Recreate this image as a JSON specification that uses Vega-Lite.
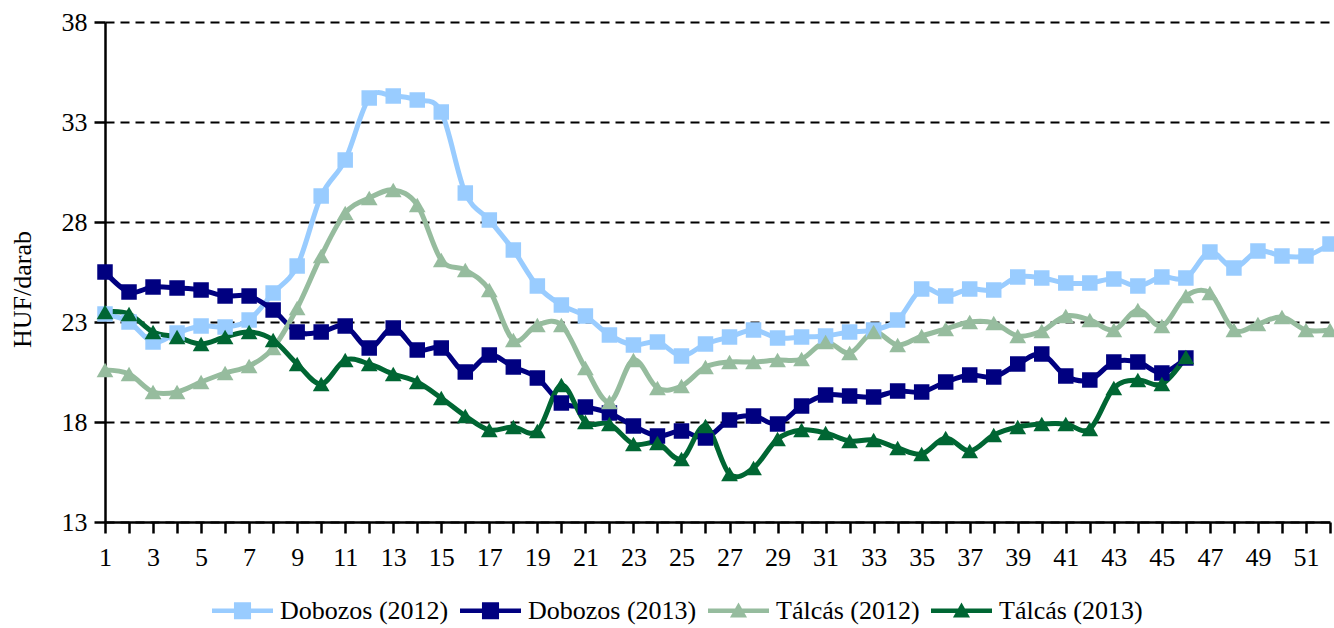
{
  "$schema": "https://vega.github.io/schema/vega-lite/v6.json",
  "width": 1225,
  "height": 500,
  "autosize": {"type": "none"},
  "padding": {"left": 105, "top": 22, "right": 4, "bottom": 106},
  "background": "white",
  "config": {
    "view": {"stroke": null},
    "font": "Liberation Serif",
    "axis": {
      "labelFont": "Liberation Serif",
      "titleFont": "Liberation Serif",
      "labelColor": "black",
      "titleColor": "black",
      "labelFontSize": 26,
      "titleFontSize": 26,
      "titleFontWeight": "normal",
      "domainColor": "black",
      "domainWidth": 2.5,
      "tickColor": "black",
      "tickWidth": 2.5,
      "tickSize": 11
    },
    "legend": {
      "labelFont": "Liberation Serif",
      "labelFontSize": 26,
      "labelColor": "black",
      "labelLimit": 400
    }
  },
  "datasets": {
    "prices": [
      {"w":1,"s":"Dobozos (2012)","v":23.4},{"w":2,"s":"Dobozos (2012)","v":23.0},{"w":3,"s":"Dobozos (2012)","v":22.0},{"w":4,"s":"Dobozos (2012)","v":22.45},{"w":5,"s":"Dobozos (2012)","v":22.8},{"w":6,"s":"Dobozos (2012)","v":22.75},{"w":7,"s":"Dobozos (2012)","v":23.1},{"w":8,"s":"Dobozos (2012)","v":24.45},{"w":9,"s":"Dobozos (2012)","v":25.8},{"w":10,"s":"Dobozos (2012)","v":29.3},
      {"w":11,"s":"Dobozos (2012)","v":31.1},{"w":12,"s":"Dobozos (2012)","v":34.2},{"w":13,"s":"Dobozos (2012)","v":34.3},{"w":14,"s":"Dobozos (2012)","v":34.1},{"w":15,"s":"Dobozos (2012)","v":33.5},{"w":16,"s":"Dobozos (2012)","v":29.45},{"w":17,"s":"Dobozos (2012)","v":28.1},{"w":18,"s":"Dobozos (2012)","v":26.6},{"w":19,"s":"Dobozos (2012)","v":24.8},{"w":20,"s":"Dobozos (2012)","v":23.85},
      {"w":21,"s":"Dobozos (2012)","v":23.3},{"w":22,"s":"Dobozos (2012)","v":22.35},{"w":23,"s":"Dobozos (2012)","v":21.85},{"w":24,"s":"Dobozos (2012)","v":22.0},{"w":25,"s":"Dobozos (2012)","v":21.3},{"w":26,"s":"Dobozos (2012)","v":21.9},{"w":27,"s":"Dobozos (2012)","v":22.25},{"w":28,"s":"Dobozos (2012)","v":22.6},{"w":29,"s":"Dobozos (2012)","v":22.2},{"w":30,"s":"Dobozos (2012)","v":22.25},
      {"w":31,"s":"Dobozos (2012)","v":22.3},{"w":32,"s":"Dobozos (2012)","v":22.5},{"w":33,"s":"Dobozos (2012)","v":22.6},{"w":34,"s":"Dobozos (2012)","v":23.1},{"w":35,"s":"Dobozos (2012)","v":24.65},{"w":36,"s":"Dobozos (2012)","v":24.3},{"w":37,"s":"Dobozos (2012)","v":24.65},{"w":38,"s":"Dobozos (2012)","v":24.6},{"w":39,"s":"Dobozos (2012)","v":25.25},{"w":40,"s":"Dobozos (2012)","v":25.2},
      {"w":41,"s":"Dobozos (2012)","v":24.95},{"w":42,"s":"Dobozos (2012)","v":24.95},{"w":43,"s":"Dobozos (2012)","v":25.15},{"w":44,"s":"Dobozos (2012)","v":24.8},{"w":45,"s":"Dobozos (2012)","v":25.25},{"w":46,"s":"Dobozos (2012)","v":25.2},{"w":47,"s":"Dobozos (2012)","v":26.5},{"w":48,"s":"Dobozos (2012)","v":25.7},{"w":49,"s":"Dobozos (2012)","v":26.55},{"w":50,"s":"Dobozos (2012)","v":26.3},
      {"w":51,"s":"Dobozos (2012)","v":26.3},{"w":52,"s":"Dobozos (2012)","v":26.9},

      {"w":1,"s":"Dobozos (2013)","v":25.5},{"w":2,"s":"Dobozos (2013)","v":24.5},{"w":3,"s":"Dobozos (2013)","v":24.75},{"w":4,"s":"Dobozos (2013)","v":24.7},{"w":5,"s":"Dobozos (2013)","v":24.6},{"w":6,"s":"Dobozos (2013)","v":24.3},{"w":7,"s":"Dobozos (2013)","v":24.3},{"w":8,"s":"Dobozos (2013)","v":23.6},{"w":9,"s":"Dobozos (2013)","v":22.5},{"w":10,"s":"Dobozos (2013)","v":22.5},
      {"w":11,"s":"Dobozos (2013)","v":22.8},{"w":12,"s":"Dobozos (2013)","v":21.7},{"w":13,"s":"Dobozos (2013)","v":22.7},{"w":14,"s":"Dobozos (2013)","v":21.6},{"w":15,"s":"Dobozos (2013)","v":21.7},{"w":16,"s":"Dobozos (2013)","v":20.5},{"w":17,"s":"Dobozos (2013)","v":21.35},{"w":18,"s":"Dobozos (2013)","v":20.75},{"w":19,"s":"Dobozos (2013)","v":20.2},{"w":20,"s":"Dobozos (2013)","v":18.95},
      {"w":21,"s":"Dobozos (2013)","v":18.75},{"w":22,"s":"Dobozos (2013)","v":18.45},{"w":23,"s":"Dobozos (2013)","v":17.8},{"w":24,"s":"Dobozos (2013)","v":17.3},{"w":25,"s":"Dobozos (2013)","v":17.55},{"w":26,"s":"Dobozos (2013)","v":17.2},{"w":27,"s":"Dobozos (2013)","v":18.1},{"w":28,"s":"Dobozos (2013)","v":18.3},{"w":29,"s":"Dobozos (2013)","v":17.9},{"w":30,"s":"Dobozos (2013)","v":18.8},
      {"w":31,"s":"Dobozos (2013)","v":19.35},{"w":32,"s":"Dobozos (2013)","v":19.3},{"w":33,"s":"Dobozos (2013)","v":19.25},{"w":34,"s":"Dobozos (2013)","v":19.55},{"w":35,"s":"Dobozos (2013)","v":19.5},{"w":36,"s":"Dobozos (2013)","v":20.0},{"w":37,"s":"Dobozos (2013)","v":20.35},{"w":38,"s":"Dobozos (2013)","v":20.25},{"w":39,"s":"Dobozos (2013)","v":20.9},{"w":40,"s":"Dobozos (2013)","v":21.4},
      {"w":41,"s":"Dobozos (2013)","v":20.3},{"w":42,"s":"Dobozos (2013)","v":20.1},{"w":43,"s":"Dobozos (2013)","v":21.0},{"w":44,"s":"Dobozos (2013)","v":21.0},{"w":45,"s":"Dobozos (2013)","v":20.45},{"w":46,"s":"Dobozos (2013)","v":21.2},

      {"w":1,"s":"Tálcás (2012)","v":20.6},{"w":2,"s":"Tálcás (2012)","v":20.4},{"w":3,"s":"Tálcás (2012)","v":19.5},{"w":4,"s":"Tálcás (2012)","v":19.5},{"w":5,"s":"Tálcás (2012)","v":20.0},{"w":6,"s":"Tálcás (2012)","v":20.45},{"w":7,"s":"Tálcás (2012)","v":20.8},{"w":8,"s":"Tálcás (2012)","v":21.7},{"w":9,"s":"Tálcás (2012)","v":23.7},{"w":10,"s":"Tálcás (2012)","v":26.3},
      {"w":11,"s":"Tálcás (2012)","v":28.45},{"w":12,"s":"Tálcás (2012)","v":29.2},{"w":13,"s":"Tálcás (2012)","v":29.6},{"w":14,"s":"Tálcás (2012)","v":28.85},{"w":15,"s":"Tálcás (2012)","v":26.1},{"w":16,"s":"Tálcás (2012)","v":25.6},{"w":17,"s":"Tálcás (2012)","v":24.6},{"w":18,"s":"Tálcás (2012)","v":22.1},{"w":19,"s":"Tálcás (2012)","v":22.85},{"w":20,"s":"Tálcás (2012)","v":22.85},
      {"w":21,"s":"Tálcás (2012)","v":20.7},{"w":22,"s":"Tálcás (2012)","v":19.0},{"w":23,"s":"Tálcás (2012)","v":21.1},{"w":24,"s":"Tálcás (2012)","v":19.7},{"w":25,"s":"Tálcás (2012)","v":19.8},{"w":26,"s":"Tálcás (2012)","v":20.75},{"w":27,"s":"Tálcás (2012)","v":21.0},{"w":28,"s":"Tálcás (2012)","v":21.0},{"w":29,"s":"Tálcás (2012)","v":21.1},{"w":30,"s":"Tálcás (2012)","v":21.15},
      {"w":31,"s":"Tálcás (2012)","v":22.0},{"w":32,"s":"Tálcás (2012)","v":21.45},{"w":33,"s":"Tálcás (2012)","v":22.5},{"w":34,"s":"Tálcás (2012)","v":21.85},{"w":35,"s":"Tálcás (2012)","v":22.3},{"w":36,"s":"Tálcás (2012)","v":22.65},{"w":37,"s":"Tálcás (2012)","v":23.0},{"w":38,"s":"Tálcás (2012)","v":22.95},{"w":39,"s":"Tálcás (2012)","v":22.3},{"w":40,"s":"Tálcás (2012)","v":22.55},
      {"w":41,"s":"Tálcás (2012)","v":23.3},{"w":42,"s":"Tálcás (2012)","v":23.1},{"w":43,"s":"Tálcás (2012)","v":22.6},{"w":44,"s":"Tálcás (2012)","v":23.6},{"w":45,"s":"Tálcás (2012)","v":22.8},{"w":46,"s":"Tálcás (2012)","v":24.3},{"w":47,"s":"Tálcás (2012)","v":24.45},{"w":48,"s":"Tálcás (2012)","v":22.6},{"w":49,"s":"Tálcás (2012)","v":22.9},{"w":50,"s":"Tálcás (2012)","v":23.25},
      {"w":51,"s":"Tálcás (2012)","v":22.6},{"w":52,"s":"Tálcás (2012)","v":22.6},

      {"w":1,"s":"Tálcás (2013)","v":23.5},{"w":2,"s":"Tálcás (2013)","v":23.4},{"w":3,"s":"Tálcás (2013)","v":22.5},{"w":4,"s":"Tálcás (2013)","v":22.25},{"w":5,"s":"Tálcás (2013)","v":21.9},{"w":6,"s":"Tálcás (2013)","v":22.25},{"w":7,"s":"Tálcás (2013)","v":22.5},{"w":8,"s":"Tálcás (2013)","v":22.1},{"w":9,"s":"Tálcás (2013)","v":20.9},{"w":10,"s":"Tálcás (2013)","v":19.9},
      {"w":11,"s":"Tálcás (2013)","v":21.1},{"w":12,"s":"Tálcás (2013)","v":20.9},{"w":13,"s":"Tálcás (2013)","v":20.4},{"w":14,"s":"Tálcás (2013)","v":20.0},{"w":15,"s":"Tálcás (2013)","v":19.2},{"w":16,"s":"Tálcás (2013)","v":18.3},{"w":17,"s":"Tálcás (2013)","v":17.6},{"w":18,"s":"Tálcás (2013)","v":17.75},{"w":19,"s":"Tálcás (2013)","v":17.55},{"w":20,"s":"Tálcás (2013)","v":19.85},
      {"w":21,"s":"Tálcás (2013)","v":18.0},{"w":22,"s":"Tálcás (2013)","v":17.9},{"w":23,"s":"Tálcás (2013)","v":16.9},{"w":24,"s":"Tálcás (2013)","v":16.95},{"w":25,"s":"Tálcás (2013)","v":16.15},{"w":26,"s":"Tálcás (2013)","v":17.8},{"w":27,"s":"Tálcás (2013)","v":15.4},{"w":28,"s":"Tálcás (2013)","v":15.7},{"w":29,"s":"Tálcás (2013)","v":17.15},{"w":30,"s":"Tálcás (2013)","v":17.6},
      {"w":31,"s":"Tálcás (2013)","v":17.45},{"w":32,"s":"Tálcás (2013)","v":17.05},{"w":33,"s":"Tálcás (2013)","v":17.1},{"w":34,"s":"Tálcás (2013)","v":16.7},{"w":35,"s":"Tálcás (2013)","v":16.4},{"w":36,"s":"Tálcás (2013)","v":17.2},{"w":37,"s":"Tálcás (2013)","v":16.55},{"w":38,"s":"Tálcás (2013)","v":17.35},{"w":39,"s":"Tálcás (2013)","v":17.75},{"w":40,"s":"Tálcás (2013)","v":17.9},
      {"w":41,"s":"Tálcás (2013)","v":17.9},{"w":42,"s":"Tálcás (2013)","v":17.65},{"w":43,"s":"Tálcás (2013)","v":19.7},{"w":44,"s":"Tálcás (2013)","v":20.1},{"w":45,"s":"Tálcás (2013)","v":19.9},{"w":46,"s":"Tálcás (2013)","v":21.25}
    ]
  },
  "data": {"name": "prices"},
  "encoding": {
    "x": {
      "field": "w",
      "type": "quantitative",
      "scale": {"domain": [1, 52], "nice": false, "zero": false},
      "axis": {
        "title": null,
        "grid": false,
        "values": [1,2,3,4,5,6,7,8,9,10,11,12,13,14,15,16,17,18,19,20,21,22,23,24,25,26,27,28,29,30,31,32,33,34,35,36,37,38,39,40,41,42,43,44,45,46,47,48,49,50,51,52],
        "labelExpr": "datum.value % 2 == 1 ? datum.label : ''",
        "labelOverlap": false,
        "labelFlush": false,
        "labelPadding": 11
      }
    },
    "y": {
      "field": "v",
      "type": "quantitative",
      "scale": {"domain": [13, 38], "nice": false, "zero": false},
      "axis": {
        "title": "HUF/darab",
        "values": [13, 18, 23, 28, 33, 38],
        "grid": true,
        "gridColor": "black",
        "gridWidth": 2,
        "gridDash": [9, 6],
        "labelPadding": 7,
        "titlePadding": 26,
        "titleY": 267
      }
    }
  },
  "layer": [
    {
      "transform": [{"filter": "datum.w > 999"}],
      "mark": {"type": "point", "filled": true, "opacity": 1},
      "encoding": {
        "color": {
          "field": "s",
          "type": "nominal",
          "scale": {
            "domain": ["Dobozos (2012)", "Dobozos (2013)", "Tálcás (2012)", "Tálcás (2013)"],
            "range": ["#99CCFF", "#000080", "#96BC9E", "#006633"]
          },
          "legend": {
            "title": null,
            "orient": "none",
            "legendX": 107,
            "legendY": 558,
            "direction": "horizontal",
            "columns": 4,
            "symbolSize": 3721,
            "symbolStrokeWidth": 0,
            "symbolOpacity": 1,
            "labelOffset": 7,
            "columnPadding": 11,
            "labelFont": "Liberation Serif",
            "labelFontSize": 26,
            "labelLimit": 400
          }
        },
        "shape": {
          "field": "s",
          "type": "nominal",
          "scale": {
            "domain": ["Dobozos (2012)", "Dobozos (2013)", "Tálcás (2012)", "Tálcás (2013)"],
            "range": [
              "M-1,-0.07H1V0.07H-1Z M-0.28,-0.28H0.28V0.28H-0.28Z",
              "M-1,-0.07H1V0.07H-1Z M-0.28,-0.28H0.28V0.28H-0.28Z",
              "M-1,-0.07H1V0.07H-1Z M0,-0.27L0.28,0.22L-0.28,0.22Z",
              "M-1,-0.07H1V0.07H-1Z M0,-0.27L0.28,0.22L-0.28,0.22Z"
            ]
          },
          "legend": {
            "title": null,
            "orient": "none",
            "legendX": 107,
            "legendY": 558,
            "direction": "horizontal",
            "columns": 4,
            "symbolSize": 3721,
            "symbolStrokeWidth": 0,
            "symbolOpacity": 1,
            "labelOffset": 7,
            "columnPadding": 11,
            "labelFont": "Liberation Serif",
            "labelFontSize": 26,
            "labelLimit": 400
          }
        }
      }
    },
    {
      "mark": {"type": "line", "strokeWidth": 5, "interpolate": "cardinal", "tension": 0},
      "encoding": {
        "stroke": {
          "field": "s",
          "type": "nominal",
          "scale": {"range": ["#99CCFF", "#000080", "#96BC9E", "#006633"]},
          "legend": null
        }
      }
    },
    {
      "transform": [{"filter": "indexof(datum.s, 'Dobozos') == 0"}],
      "mark": {"type": "point", "shape": "square", "filled": true, "size": 240, "opacity": 1, "strokeWidth": 0},
      "encoding": {
        "fill": {
          "field": "s",
          "type": "nominal",
          "scale": {"range": ["#99CCFF", "#000080", "#96BC9E", "#006633"]},
          "legend": null
        }
      }
    },
    {
      "transform": [{"filter": "indexof(datum.s, 'Tálcás') == 0"}],
      "mark": {"type": "point", "shape": "triangle-up", "filled": true, "size": 280, "opacity": 1, "strokeWidth": 0},
      "encoding": {
        "fill": {
          "field": "s",
          "type": "nominal",
          "scale": {"range": ["#99CCFF", "#000080", "#96BC9E", "#006633"]},
          "legend": null
        }
      }
    }
  ]
}
